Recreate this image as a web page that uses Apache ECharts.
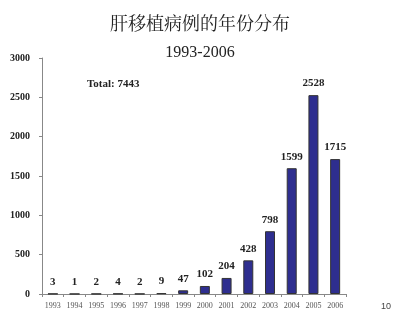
<!DOCTYPE html>
<html><head><meta charset="utf-8">
<script src="https://cdn.jsdelivr.net/npm/echarts@6/dist/echarts.min.js"></script>
<style>html,body{margin:0;padding:0;background:#fff}#c{width:400px;height:328px}</style>
</head><body><div id="c"></div>
<script>
var years = ['1993','1994','1995','1996','1997','1998','1999','2000','2001','2002','2003','2004','2005','2006'];
var cases = [3,1,2,4,2,9,47,102,204,428,798,1599,2528,1715];
var titleText = '肝移植病例的年份分布';
var subtitleText = '1993-2006';
var totalText = 'Total: 7443';
var pageNumber = '10';

var chart = echarts.init(document.getElementById('c'));
chart.setOption({
  animation: false,
  backgroundColor: '#fff',
  graphic: [
    {type:'text', left:'center', top:14, style:{text:titleText, font:'18px "Noto Serif CJK SC", "Noto Sans CJK SC"', fill:'#222'}},
    {type:'text', left:'center', top:45, style:{text:subtitleText, font:'16px "Liberation Serif"', fill:'#222'}},
    {type:'text', left:87, top:79, style:{text:totalText, font:'bold 11px "Liberation Serif"', fill:'#222'}},
    {type:'text', left:381, top:302, style:{text:pageNumber, font:'9px "Liberation Sans"', fill:'#444'}}
  ],
  grid: {left:42, right:54, top:58, bottom:34},
  xAxis: {
    type:'category', data: years,
    axisLine:{lineStyle:{color:'#888', width:1}},
    axisTick:{show:true, alignWithLabel:false, length:3, lineStyle:{color:'#888'}},
    axisLabel:{fontFamily:'Liberation Serif', fontSize:8, color:'#555', margin:8}
  },
  yAxis: {
    type:'value', min:0, max:3000, interval:500,
    axisLine:{show:true, lineStyle:{color:'#888', width:1}},
    axisTick:{show:true, inside:false, length:3, lineStyle:{color:'#888'}},
    splitLine:{show:false},
    axisLabel:{fontFamily:'Liberation Serif', fontSize:10, fontWeight:'bold', color:'#222', margin:12,
      formatter: function(v){ return String(v); }}
  },
  series: [{
    type:'bar', data: cases, barWidth:10,
    itemStyle:{color:'#2E2E8F', borderColor:'#333', borderWidth:1},
    label:{show:true, position:'top', distance:6, fontFamily:'Liberation Serif', fontSize:11, fontWeight:'bold', color:'#222'}
  }]
});
</script></body></html>
